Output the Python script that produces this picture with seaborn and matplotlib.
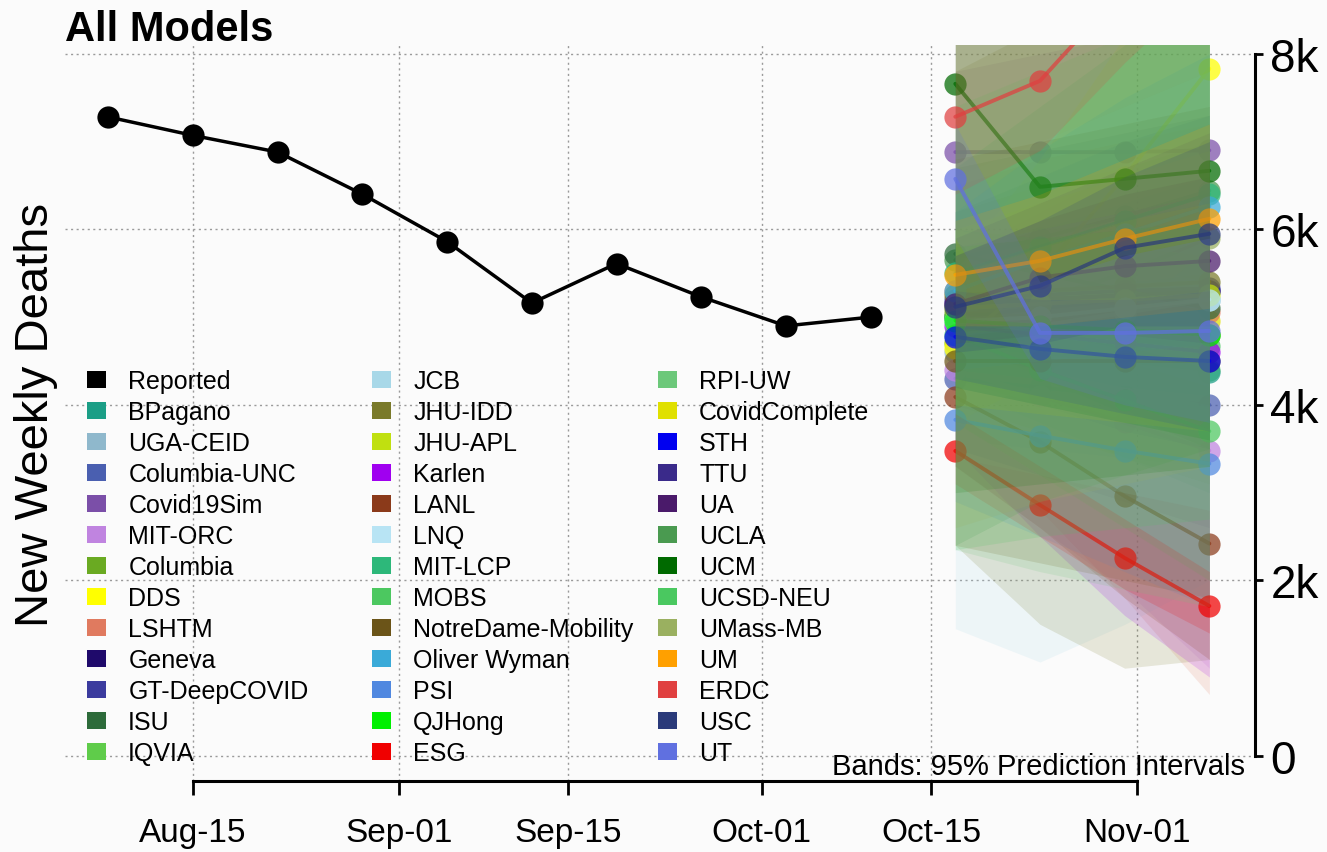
import numpy as np
import pandas as pd
import matplotlib
matplotlib.use("Agg")
import matplotlib.pyplot as plt
import matplotlib.dates as mdates
from matplotlib.patches import Patch
import seaborn as sns

# ---- reported weekly deaths ----
reported_dates = pd.date_range("2020-08-08", periods=10, freq="7D")
reported_deaths = [7280, 7070, 6880, 6400, 5860, 5160, 5610, 5230, 4900, 5000]

# ---- forecast horizon (4 weeks) ----
forecast_dates = pd.date_range("2020-10-17", periods=4, freq="7D")

models = ["BPagano", "UGA-CEID", "Columbia-UNC", "Covid19Sim", "MIT-ORC", "Columbia",
          "DDS", "LSHTM", "Geneva", "GT-DeepCOVID", "ISU", "IQVIA",
          "JCB", "JHU-IDD", "JHU-APL", "Karlen", "LANL", "LNQ", "MIT-LCP", "MOBS",
          "NotreDame-Mobility", "Oliver Wyman", "PSI", "QJHong", "ESG",
          "RPI-UW", "CovidComplete", "STH", "TTU", "UA", "UCLA", "UCM", "UCSD-NEU",
          "UMass-MB", "UM", "ERDC", "USC", "UT"]

colors = ["#1b9e86", "#8fb8cc", "#4a5fb0", "#7b4fa8", "#c084e0", "#6aaa22",
          "#ffff00", "#e07a5f", "#1f0a6b", "#3b3b9e", "#2d6b3a", "#5fcc4a",
          "#a8d8e8", "#7a7a2a", "#c0e010", "#a000f0", "#8b3a1a", "#b8e4f4", "#2db87a", "#4cc860",
          "#6b5418", "#3aaad8", "#5088e0", "#00f000", "#f00000",
          "#6cc87a", "#e0e000", "#0000f0", "#3a2a8a", "#4a1a6a", "#4a9a50", "#006a00", "#4ac860",
          "#9ab060", "#ffa000", "#e04040", "#2a3a7a", "#6070e0"]

# point forecasts, one row per model
median = [
    [5000, 4850, 4650, 4380],   # BPagano
    [4600, 4800, 5000, 5200],   # UGA-CEID
    [4300, 4200, 4100, 4000],   # Columbia-UNC
    [6880, 6880, 6880, 6900],   # Covid19Sim
    [4400, 4100, 3800, 3480],   # MIT-ORC
    [5050, 5000, 4900, 4800],   # Columbia
    [4650, 5500, 6600, 7830],   # DDS
    [5300, 5250, 5150, 5060],   # LSHTM
    [5150, 5200, 5250, 5300],   # Geneva
    [5200, 5250, 5300, 5330],   # GT-DeepCOVID
    [5720, 5500, 5300, 5100],   # ISU
    [5000, 4900, 4850, 4800],   # IQVIA
    [4800, 4900, 5050, 5200],   # JCB
    [5250, 5300, 5350, 5400],   # JHU-IDD
    [5100, 5150, 5200, 5250],   # JHU-APL
    [4900, 4800, 4700, 4600],   # Karlen
    [4090, 3580, 2960, 2420],   # LANL
    [4950, 5000, 5100, 5200],   # LNQ
    [5500, 5800, 6100, 6400],   # MIT-LCP
    [4800, 4400, 4050, 3700],   # MOBS
    [4500, 4500, 4500, 4500],   # NotreDame-Mobility
    [5300, 5650, 5950, 6260],   # Oliver Wyman
    [3830, 3650, 3480, 3330],   # PSI
    [4960, 4900, 4850, 4800],   # QJHong
    [3476, 2860, 2256, 1709],   # ESG
    [4700, 4600, 4500, 4400],   # RPI-UW
    [4700, 4800, 4900, 4960],   # CovidComplete
    [4775, 4638, 4547, 4500],   # STH
    [5000, 5100, 5200, 5300],   # TTU
    [5150, 5450, 5580, 5640],   # UA
    [5650, 5900, 6150, 6440],   # UCLA
    [7658, 6484, 6575, 6667],   # UCM
    [5000, 4850, 4750, 4670],   # UCSD-NEU
    [5000, 5200, 5500, 5900],   # UMass-MB
    [5481, 5641, 5892, 6120],   # UM
    [7282, 7692, 8750, 9600],   # ERDC
    [5117, 5356, 5789, 5949],   # USC
    [6575, 4820, 4820, 4843],   # UT
]

# 95% prediction interval bounds
lower = [
    [4200, 3800, 3400, 3000], [3600, 3500, 3400, 3300], [3500, 3200, 2900, 2600],
    [6000, 5800, 5600, 5400], [3300, 2600, 1900, 1000], [4000, 3700, 3400, 3100],
    [3800, 4300, 5000, 5800], [3500, 2800, 1800, 700], [4600, 4400, 4200, 4000],
    [4200, 4000, 3700, 3500], [4800, 4300, 3900, 3500], [4300, 4000, 3800, 3600],
    [1450, 1070, 1500, 2000], [2400, 1500, 1000, 1100], [4300, 4100, 3800, 3600],
    [3500, 2500, 1600, 900], [3300, 2600, 1800, 1100], [3400, 3200, 3000, 2800],
    [4400, 4300, 4200, 4100], [3800, 3200, 2600, 2000], [2400, 2200, 2000, 1800],
    [4400, 4500, 4600, 4700], [2900, 2500, 2100, 1700], [4200, 4000, 3800, 3600],
    [3100, 2500, 1900, 1400], [2350, 2100, 1900, 1700], [4000, 3900, 3800, 3700],
    [4300, 4100, 3900, 3700], [4200, 4000, 3800, 3600], [4700, 4800, 4800, 4700],
    [2400, 2900, 3200, 3500], [3000, 3100, 3200, 3300], [2350, 2500, 2600, 2700],
    [2600, 2900, 3100, 3300], [4900, 4900, 5000, 5100], [6400, 6900, 7900, 8800],
    [4600, 4700, 4900, 4900], [5900, 4300, 4000, 3800],
]
upper = [
    [5800, 5900, 6000, 6100], [5700, 6200, 6700, 7200], [5200, 5300, 5400, 5500],
    [7800, 8000, 8200, 8400], [5600, 5700, 5800, 5900], [6200, 6500, 6700, 7000],
    [5600, 6800, 8200, 9800], [6500, 6800, 7000, 7200], [5700, 6000, 6300, 6600],
    [6200, 6600, 7000, 7300], [6700, 6900, 7100, 7300], [5800, 6000, 6100, 6200],
    [8300, 8700, 9100, 9500], [7800, 8300, 8800, 9300], [6000, 6300, 6600, 6900],
    [5800, 6000, 6200, 6400], [5000, 4800, 4500, 4200], [6600, 7000, 7400, 7800],
    [6700, 7400, 8100, 8800], [6000, 5900, 5800, 5700], [6800, 7000, 7200, 7400],
    [6200, 6900, 7500, 8000], [4800, 4900, 5000, 5100], [5800, 5900, 6000, 6100],
    [3900, 3300, 2700, 2100], [8400, 8500, 8600, 8700], [5500, 5800, 6100, 6300],
    [5300, 5200, 5200, 5300], [5900, 6300, 6700, 7100], [5700, 6100, 6400, 6600],
    [8500, 8800, 9100, 9400], [9500, 9500, 9800, 10000], [7400, 7800, 8200, 8600],
    [8200, 8500, 8800, 9100], [6100, 6400, 6800, 7200], [8500, 9300, 10800, 12200],
    [5700, 6100, 6600, 7000], [7200, 5400, 5700, 5900],
]

# models whose point-forecast lines sit underneath the whole band stack
lines_behind = ["RPI-UW", "CovidComplete", "TTU", "UCLA", "UCSD-NEU", "UMass-MB"]

tick_dates = pd.to_datetime(["2020-08-15", "2020-09-01", "2020-09-15",
                             "2020-10-01", "2020-10-15", "2020-11-01"])
tick_labels = ["Aug-15", "Sep-01", "Sep-15", "Oct-01", "Oct-15", "Nov-01"]
y_ticks = [0, 2000, 4000, 6000, 8000]
y_labels = ["0", "2k", "4k", "6k", "8k"]

sns.set_style("white")
plt.rcParams["font.family"] = ["Liberation Sans", "DejaVu Sans"]
plt.rcParams["text.color"] = "black"
plt.rcParams["axes.labelcolor"] = "black"
plt.rcParams["xtick.color"] = "black"
plt.rcParams["ytick.color"] = "black"

W, H = 1327, 853
BG = "#fbfbfb"
fig = plt.figure(figsize=(W / 100, H / 100), dpi=100, facecolor=BG)
ax = fig.add_axes([65 / W, 1 - 782 / H, (1255 - 65) / W, (782 - 46) / H])
ax.set_facecolor(BG)

# dotted grid
for yv in y_ticks:
    ax.axhline(yv, color="#9a9a9a", lw=1.0, ls=(0, (1.5, 2.5)), zorder=0)
for xv in tick_dates:
    ax.axvline(xv, color="#9a9a9a", lw=1.0, ls=(0, (1.5, 2.5)), zorder=0)

# reported series
sns.lineplot(x=reported_dates, y=reported_deaths, color="black", marker="o",
             markersize=16, markeredgewidth=0, lw=2.5, ax=ax, zorder=5)


def draw_line(col, med):
    sns.lineplot(x=forecast_dates, y=med, color=col, marker="o", markersize=16,
                 markeredgewidth=0, lw=2.8, alpha=0.72, ax=ax, zorder=2)


for name, col, med in zip(models, colors, median):
    if name in lines_behind:
        draw_line(col, med)

# bands and point forecasts, model by model (same zorder, so later bands cover earlier lines)
for name, col, med, lo, hi in zip(models, colors, median, lower, upper):
    ax.fill_between(forecast_dates, lo, hi, color=col, alpha=0.16, lw=0, zorder=2)
    if name not in lines_behind:
        draw_line(col, med)

aug15 = mdates.date2num(pd.Timestamp("2020-08-15"))
ax.set_xlim(aug15 - 10.58, aug15 + 87.77)
ax.set_ylim(-285, 8100)

ax.set_xticks(tick_dates)
ax.set_xticklabels(tick_labels, fontsize=24)
ax.set_yticks(y_ticks)
ax.set_yticklabels(y_labels, fontsize=33)
ax.yaxis.tick_right()
ax.tick_params(axis="x", bottom=True, length=10, width=2, pad=16, direction="out", colors="black")
ax.tick_params(axis="y", right=True, left=False, length=6, width=2, pad=5,
               direction="out", colors="black")
ax.set_xlabel("")
ax.set_ylabel("")

for s in ["left", "top"]:
    ax.spines[s].set_visible(False)
ax.spines["right"].set_bounds(0, 8000)
ax.spines["right"].set_linewidth(2.2)
ax.spines["right"].set_color("black")
ax.spines["bottom"].set_bounds(mdates.date2num(tick_dates[0]), mdates.date2num(tick_dates[-1]))
ax.spines["bottom"].set_linewidth(2.2)
ax.spines["bottom"].set_color("black")

# legend in three columns
entries = [("Reported", "black")] + list(zip(models, colors))
col_x = [87, 372, 658]
for c in range(3):
    handles = [Patch(facecolor=col, edgecolor="none", label=lab)
               for lab, col in entries[c * 13:(c + 1) * 13]]
    leg = ax.legend(handles=handles, loc="upper left",
                    bbox_to_anchor=(col_x[c] / W, 1 - 370 / H),
                    bbox_transform=fig.transFigure, frameon=False, fontsize=18,
                    handlelength=0.75, handleheight=0.7, handletextpad=0.9,
                    labelspacing=0.28, borderpad=0, borderaxespad=0)
    for t in leg.get_texts():
        t.set_color("black")
    if c < 2:
        ax.add_artist(leg)

ax.text(1245 / W, 1 - 767 / H, "Bands: 95% Prediction Intervals", transform=fig.transFigure,
        ha="right", va="center", fontsize=21)

fig.text(65 / W, 1 - 10 / H, "All Models", fontsize=30, fontweight="bold",
         ha="left", va="top")
fig.text(36 / W, 1 - 415 / H, "New Weekly Deaths", fontsize=34, rotation=90,
         ha="center", va="center")

fig.savefig("out.png", dpi=100, facecolor=fig.get_facecolor())
